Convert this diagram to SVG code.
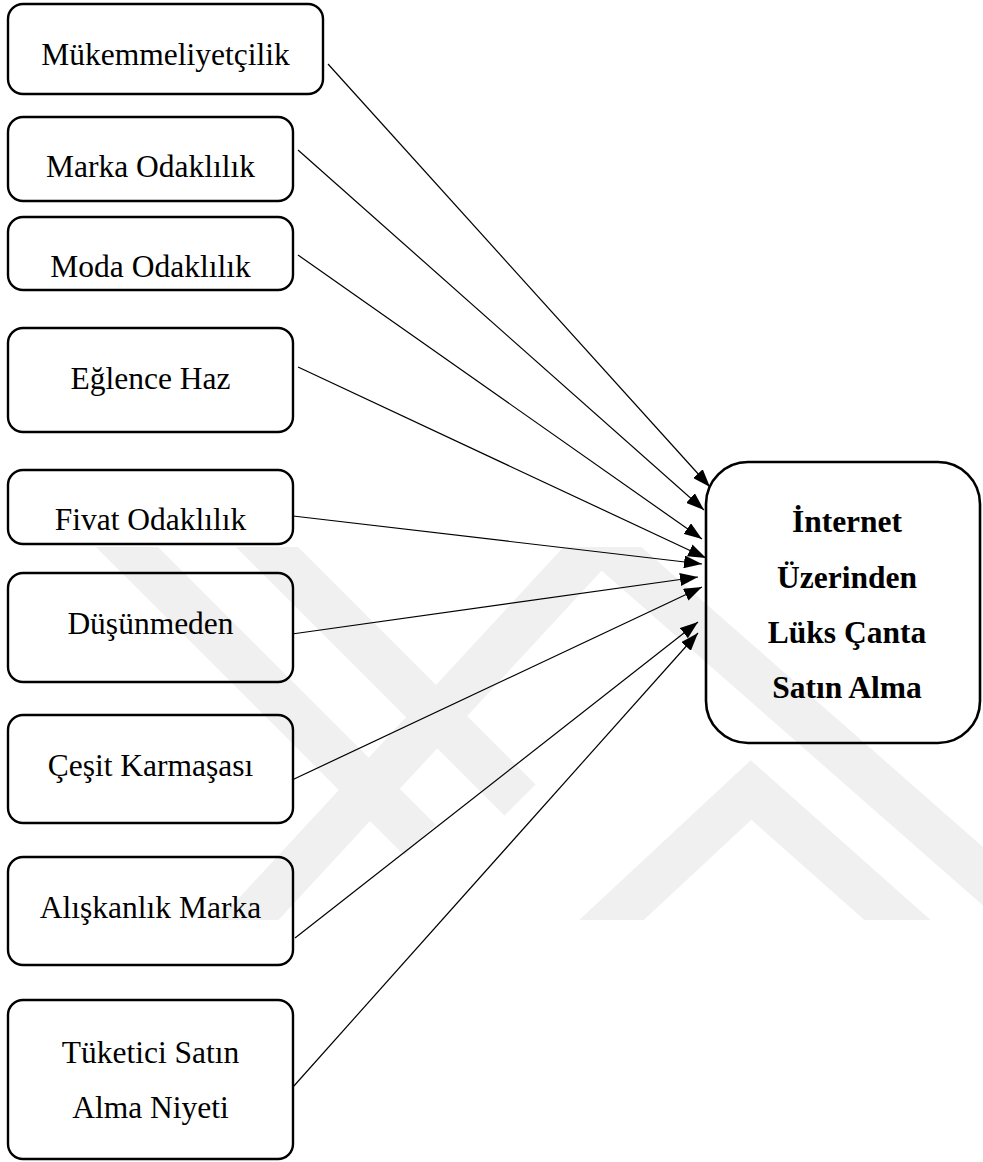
<svg xmlns="http://www.w3.org/2000/svg" width="983" height="1162" viewBox="0 0 983 1162">
  <style>
    .box { fill: none; stroke: #000; stroke-width: 2.4; }
    .bigbox { fill: none; stroke: #000; stroke-width: 2.6; }
    .lbl { font-size: 31.5px; fill: #000; text-anchor: middle; }
    .blbl { font-size: 31.5px; font-weight: bold; fill: #000; text-anchor: middle; }
    .conn { stroke: #000; stroke-width: 1.2; fill: none; marker-end: url(#ah); }
    .wm { fill: none; stroke: #f0f0f0; stroke-width: 44; stroke-linejoin: miter; }
  </style>
  <defs>
    <marker id="ah" viewBox="0 0 18 13" refX="18" refY="6.5" markerWidth="18" markerHeight="13" orient="auto" markerUnits="userSpaceOnUse">
      <path d="M0,0 L18,6.5 L0,13 z" fill="#000"/>
    </marker>
    <clipPath id="wmclip"><rect x="0" y="547" width="983" height="373"/></clipPath>
  </defs>
  <rect width="983" height="1162" fill="#fff"/>

  <g id="watermark" clip-path="url(#wmclip)">
    <polyline class="wm" points="110,530 420,840"/>
    <polyline class="wm" points="240,520 520,800"/>
    <polyline class="wm" points="230,940 600,540 1010,900"/>
    <polyline class="wm" points="590,940 751,790 920,940"/>
  </g>

  <g id="connectors">
    <line class="conn" x1="328" y1="64" x2="710" y2="487"/>
    <line class="conn" x1="298" y1="150" x2="704" y2="510"/>
    <line class="conn" x1="298" y1="255" x2="702" y2="539"/>
    <line class="conn" x1="298" y1="367" x2="706" y2="558"/>
    <line class="conn" x1="293" y1="516" x2="702" y2="564"/>
    <line class="conn" x1="292" y1="634" x2="698" y2="577"/>
    <line class="conn" x1="292" y1="780" x2="702" y2="587"/>
    <line class="conn" x1="295" y1="938" x2="698" y2="622"/>
    <line class="conn" x1="293" y1="1087" x2="698" y2="633"/>
  </g>

  <g font-family="Liberation Serif, Tinos, Times New Roman, DejaVu Serif, serif">
  <g id="n1"><rect class="box" x="8" y="4" width="315" height="90" rx="15"/><text class="lbl" x="165.5" y="65">Mükemmeliyetçilik</text></g>
  <g id="n2"><rect class="box" x="8" y="117" width="285" height="84" rx="15"/><text class="lbl" x="150.5" y="177">Marka Odaklılık</text></g>
  <g id="n3"><rect class="box" x="8" y="217" width="285" height="73" rx="15"/><text class="lbl" x="150.5" y="277">Moda Odaklılık</text></g>
  <g id="n4"><rect class="box" x="8" y="328" width="285" height="104" rx="15"/><text class="lbl" x="150.5" y="389">Eğlence Haz</text></g>
  <g id="n5"><rect class="box" x="8" y="470" width="285" height="74" rx="15"/><text class="lbl" x="150.5" y="530">Fivat Odaklılık</text></g>
  <g id="n6"><rect class="box" x="8" y="573" width="285" height="109" rx="15"/><text class="lbl" x="150.5" y="634">Düşünmeden</text></g>
  <g id="n7"><rect class="box" x="8" y="715" width="285" height="108" rx="15"/><text class="lbl" x="150.5" y="776">Çeşit Karmaşası</text></g>
  <g id="n8"><rect class="box" x="8" y="857" width="285" height="108" rx="15"/><text class="lbl" x="150.5" y="918">Alışkanlık Marka</text></g>
  <g id="n9"><rect class="box" x="8" y="1000" width="285" height="159" rx="15"/><text class="lbl" x="150.5" y="1063">Tüketici Satın</text><text class="lbl" x="150.5" y="1118">Alma Niyeti</text></g>

  <g id="target">
    <rect class="bigbox" x="706" y="462" width="274" height="281" rx="42"/>
    <text class="blbl" x="847" y="532">İnternet</text>
    <text class="blbl" x="847" y="588">Üzerinden</text>
    <text class="blbl" x="847" y="643">Lüks Çanta</text>
    <text class="blbl" x="847" y="698">Satın Alma</text>
  </g>
  </g>
</svg>
